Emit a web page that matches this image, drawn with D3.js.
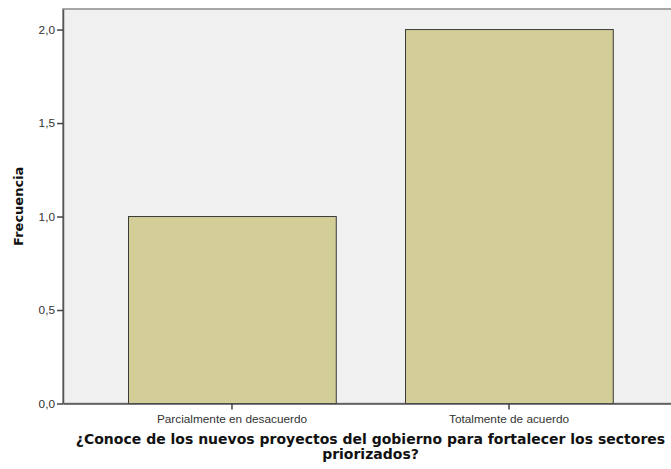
<!DOCTYPE html>
<html>
<head>
<meta charset="utf-8">
<script src="https://cdn.jsdelivr.net/npm/d3@7"></script>
<style>
  body { margin: 0; background: #fff; }
  svg { display: block; }
</style>
</head>
<body>
<div id="chart"></div>
<script>
var categories = ['Parcialmente en desacuerdo', 'Totalmente de acuerdo'];
var frecuencia = [1, 2];
var yTicks = [0, 0.5, 1, 1.5, 2];
var yLabel = 'Frecuencia';
var xTitle = ['¿Conoce de los nuevos proyectos del gobierno para fortalecer los sectores', 'priorizados?'];

var W = 671, H = 469,
    margin = {left: 63, right: 678, top: 9, bottom: 403.5};

var svg = d3.select('#chart').append('svg')
    .attr('width', W)
    .attr('height', H);

var x = d3.scaleBand()
    .domain(categories)
    .range([margin.left, margin.right])
    .paddingInner(0.25)
    .paddingOuter(0.235);

var y = d3.scaleLinear()
    .domain([0, 2.11])
    .range([margin.bottom, margin.top]);

// plot background
svg.append('rect')
    .attr('x', margin.left)
    .attr('y', margin.top)
    .attr('width', margin.right - margin.left)
    .attr('height', margin.bottom - margin.top)
    .attr('fill', '#f0f0f0')
    .attr('stroke', '#8a8a8a')
    .attr('stroke-width', 1.5);

// bars
svg.selectAll('.bar')
    .data(categories)
    .enter().append('rect')
    .attr('class', 'bar')
    .attr('x', function(d) { return Math.round(x(d)) + 0.5; })
    .attr('y', function(d, i) { return y(frecuencia[i]); })
    .attr('width', x.bandwidth())
    .attr('height', function(d, i) { return margin.bottom - y(frecuencia[i]); })
    .attr('fill', '#d3ce97')
    .attr('stroke', '#3a3a3a')
    .attr('stroke-width', 1);

// y axis
var yAxis = svg.append('g')
    .attr('transform', 'translate(' + margin.left + ',0)')
    .call(d3.axisLeft(y).tickValues(yTicks).tickSize(6).tickSizeOuter(0)
        .tickFormat(function(d) { return d3.format('.1f')(d).replace('.', ','); }));

// x axis
var xAxis = svg.append('g')
    .attr('transform', 'translate(0,' + margin.bottom + ')')
    .call(d3.axisBottom(x).tickSize(6).tickSizeOuter(0));

[yAxis, xAxis].forEach(function(ax) {
    ax.select('.domain').attr('stroke', '#555').attr('stroke-width', 1.5);
    ax.selectAll('.tick line').attr('stroke', '#444').attr('stroke-width', 1.5);
    ax.selectAll('.tick text')
        .attr('fill', '#333')
        .style('font-family', 'Liberation Sans, Arial, sans-serif')
        .style('font-size', '11.8px');
});
yAxis.selectAll('.tick text').attr('x', -8);
xAxis.selectAll('.tick text').attr('y', 11);

svg.append('text')
    .attr('transform', 'translate(23,' + ((margin.top + margin.bottom) / 2) + ') rotate(-90)')
    .attr('text-anchor', 'middle')
    .style('font-family', 'DejaVu Sans, sans-serif')
    .style('font-weight', 'bold')
    .style('font-size', '13px')
    .attr('fill', '#111')
    .text(yLabel);

svg.selectAll('.xtitle')
    .data(xTitle)
    .enter().append('text')
    .attr('class', 'xtitle')
    .attr('x', (margin.left + margin.right) / 2)
    .attr('y', function(d, i) { return 444 + i * 15; })
    .attr('text-anchor', 'middle')
    .style('font-family', 'DejaVu Sans, sans-serif')
    .style('font-weight', 'bold')
    .style('font-size', '14px')
    .attr('fill', '#111')
    .text(function(d) { return d; });
</script>
</body>
</html>
